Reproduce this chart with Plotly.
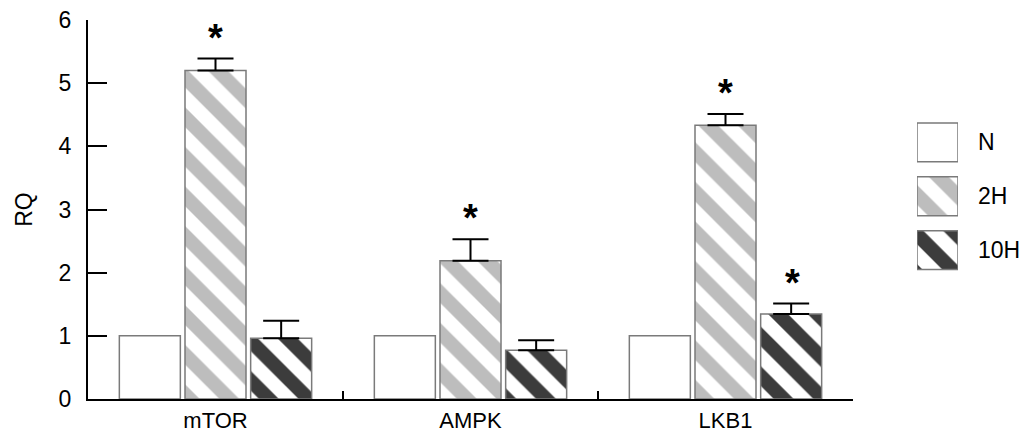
import plotly.graph_objects as go

categories = ["mTOR", "AMPK", "LKB1"]
groups = ["N", "2H", "10H"]
values_N = [1.0, 1.0, 1.0]
values_2H = [5.20, 2.19, 4.335]
values_10H = [0.96, 0.77, 1.345]
err_N = [0.0, 0.0, 0.0]
err_2H = [0.19, 0.34, 0.175]
err_10H = [0.28, 0.16, 0.165]
sig_2H = [True, True, True]
sig_10H = [False, False, True]
y_ticks = [0, 1, 2, 3, 4, 5, 6]

FONT = "Liberation Sans, Arial, sans-serif"
OUTLINE = "#7a7a7a"
styles = {
    "N": dict(shape="", fg="white"),
    "2H": dict(shape="\\", fg="#bdbdbd"),
    "10H": dict(shape="\\", fg="#3c3c3c"),
}
series = {
    "N": (values_N, err_N, [False] * 3),
    "2H": (values_2H, err_2H, sig_2H),
    "10H": (values_10H, err_10H, sig_10H),
}

fig = go.Figure()

def marker_for(g):
    st = styles[g]
    return dict(
        color="white",
        line=dict(color=OUTLINE, width=1.5),
        pattern=dict(shape=st["shape"], fgcolor=st["fg"], bgcolor="white",
                     size=28, solidity=0.5, fillmode="replace"),
    )

for g in groups:
    vals, errs, _ = series[g]
    fig.add_trace(go.Bar(
        x=categories, y=vals, name=g, marker=marker_for(g),
        error_y=dict(type="data", array=errs, arrayminus=[0] * len(errs),
                     symmetric=False, visible=any(e > 0 for e in errs),
                     color="black", thickness=2, width=18),
        showlegend=False, xaxis="x", yaxis="y",
    ))

# significance asterisks
offsets = {"N": -1, "2H": 0, "10H": 1}
annotations = []
for g in groups:
    vals, errs, sigs = series[g]
    for i, c in enumerate(categories):
        if sigs[i]:
            annotations.append(dict(
                x=c, y=vals[i] + errs[i], xref="x", yref="y",
                text="<b>*</b>", showarrow=False, xanchor="center", yanchor="middle",
                xshift=offsets[g] * 67, yshift=21,
                font=dict(family=FONT, size=38, color="black"),
            ))

# legend swatches as a small inset bar chart
for g in groups:
    fig.add_trace(go.Bar(
        x=[1], y=[g], orientation="h", marker=marker_for(g), width=0.72,
        showlegend=False, xaxis="x2", yaxis="y2", hoverinfo="skip",
    ))
    annotations.append(dict(
        x=0.958, y=g, xref="paper", yref="y2", text=g, showarrow=False,
        xanchor="left", yanchor="middle",
        font=dict(family=FONT, size=23, color="black"),
    ))

fig.update_layout(
    width=1035, height=435,
    margin=dict(l=88, r=20, t=20, b=36),
    paper_bgcolor="white", plot_bgcolor="white",
    font=dict(family=FONT, size=23, color="black"),
    barmode="group", bargap=0.2275, bargroupgap=0.071,
    annotations=annotations,
    xaxis=dict(
        domain=[0, 765 / 927], type="category", showline=True, linecolor="black",
        linewidth=2, ticks="inside", tickson="boundaries", ticklen=8, tickwidth=2,
        tickcolor="black", showgrid=False, zeroline=False, automargin=False,
        tickfont=dict(family=FONT, size=22), ticklabelstandoff=1,
        range=[-0.5, 2.5],
    ),
    yaxis=dict(
        range=[0, 6], tickvals=y_ticks, showline=True, linecolor="black",
        linewidth=2, ticks="inside", ticklen=19, tickwidth=2, tickcolor="black",
        showgrid=False, zeroline=False, tickfont=dict(family=FONT, size=23),
        ticklabelstandoff=10, automargin=False,
        title=dict(text="RQ", font=dict(family=FONT, size=23), standoff=20),
    ),
    xaxis2=dict(domain=[(917 - 88) / 927, (958 - 88) / 927], range=[0, 1],
                visible=False, fixedrange=True),
    yaxis2=dict(domain=[(399 - 277) / 379, (399 - 115.5) / 379], anchor="x2",
                categoryorder="array", categoryarray=["10H", "2H", "N"],
                range=[-0.5, 2.5], visible=False, fixedrange=True),
)

fig.write_html("out.html", config={"displayModeBar": False},
               post_script="document.body.style.margin='0';document.body.style.overflow='hidden';")
